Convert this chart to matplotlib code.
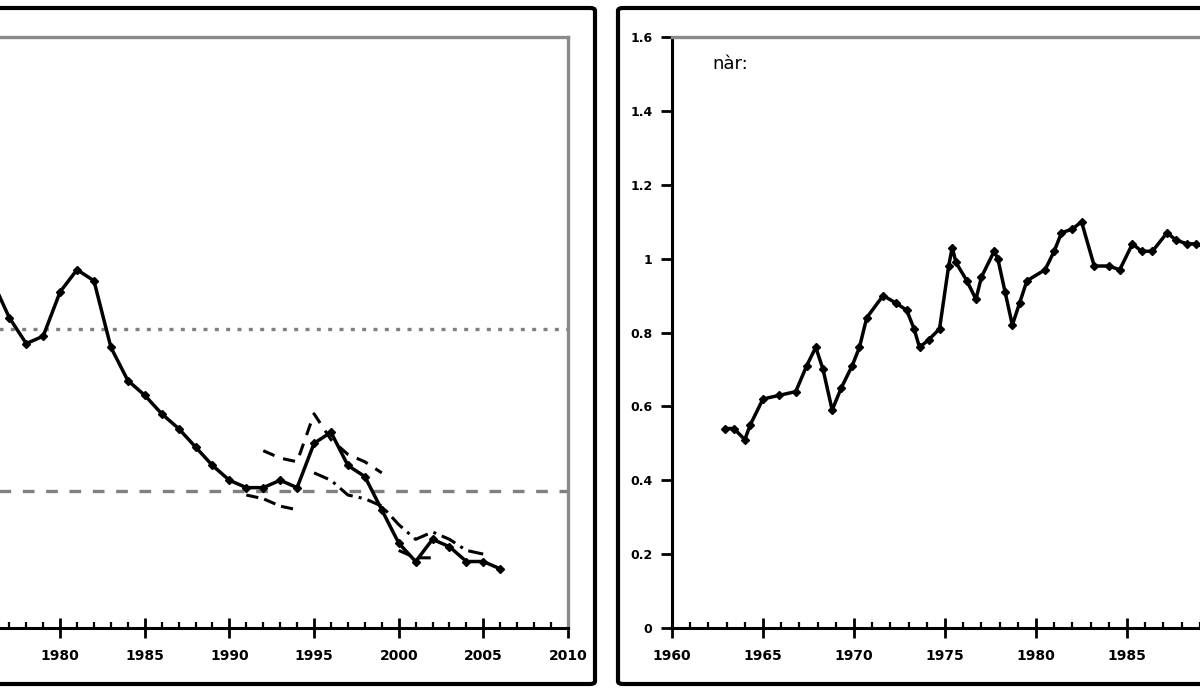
import matplotlib
matplotlib.use("Agg")
import matplotlib.pyplot as plt
from matplotlib.patches import FancyBboxPatch
from matplotlib.ticker import MultipleLocator, FuncFormatter

# === DATA ====================================================================
# left panel: main series (annual) and revised vintages
left_years = list(range(1976, 2007))
left_main = [0.94, 0.84, 0.77, 0.79, 0.91, 0.97, 0.94, 0.76, 0.67, 0.63,
             0.58, 0.54, 0.49, 0.44, 0.40, 0.38, 0.38, 0.40, 0.38, 0.50,
             0.53, 0.44, 0.41, 0.32, 0.23, 0.18, 0.24, 0.22, 0.18, 0.18,
             0.16]

vint_a_years = [1992, 1993, 1994, 1995, 1996, 1997, 1998, 1999]
vint_a = [0.48, 0.46, 0.45, 0.58, 0.51, 0.47, 0.45, 0.42]

vint_b_years = [1991, 1992, 1993, 1994]
vint_b = [0.36, 0.35, 0.33, 0.32]

vint_c_years = [1995, 1996, 1997, 1998, 1999, 2000, 2001, 2002, 2003, 2004, 2005]
vint_c = [0.42, 0.40, 0.36, 0.35, 0.33, 0.28, 0.24, 0.26, 0.24, 0.21, 0.20]

vint_d_years = [2000, 2001, 2002]
vint_d = [0.21, 0.19, 0.19]

ref_dotted = 0.81
ref_dashed = 0.37

# right panel: single series
right_years = [1962.9, 1963.4, 1964.0, 1964.3, 1965.0, 1965.9, 1966.8, 1967.4,
               1967.9, 1968.3, 1968.8, 1969.3, 1969.9, 1970.3, 1970.7, 1971.6,
               1972.3, 1972.9, 1973.3, 1973.6, 1974.1, 1974.7, 1975.2, 1975.4,
               1975.6, 1976.2, 1976.7, 1977.0, 1977.7, 1977.9, 1978.3, 1978.7,
               1979.1, 1979.5, 1980.5, 1981.0, 1981.4, 1982.0, 1982.5, 1983.2,
               1984.0, 1984.6, 1985.3, 1985.8, 1986.4, 1987.2, 1987.7, 1988.3,
               1988.8, 1989.3]
right_vals = [0.54, 0.54, 0.51, 0.55, 0.62, 0.63, 0.64, 0.71,
              0.76, 0.70, 0.59, 0.65, 0.71, 0.76, 0.84, 0.90,
              0.88, 0.86, 0.81, 0.76, 0.78, 0.81, 0.98, 1.03,
              0.99, 0.94, 0.89, 0.95, 1.02, 1.00, 0.91, 0.82,
              0.88, 0.94, 0.97, 1.02, 1.07, 1.08, 1.10, 0.98,
              0.98, 0.97, 1.04, 1.02, 1.02, 1.07, 1.05, 1.04,
              1.04, 1.03]
right_label = "nàr:"

W, H = 1200, 696


def style_axes(ax):
    for s in ("top", "right"):
        ax.spines[s].set_color("#8a8a8a")
        ax.spines[s].set_linewidth(2.4)
    for s in ("bottom", "left"):
        ax.spines[s].set_color("black")
        ax.spines[s].set_linewidth(2.2)
    ax.xaxis.set_major_locator(MultipleLocator(5))
    ax.xaxis.set_minor_locator(MultipleLocator(1))
    ax.tick_params(axis="x", which="major", direction="inout", length=14,
                   width=2, labelsize=10, pad=8)
    ax.tick_params(axis="x", which="minor", direction="in", length=4, width=1.6)
    ax.tick_params(axis="y", which="major", direction="out", length=8,
                   width=2, labelsize=9, pad=6)
    ax.tick_params(top=False, right=False)


def year_fmt(lo, hi):
    # only label the years that fit inside the picture
    return FuncFormatter(lambda v, p: "%d" % v if lo <= v <= hi else "")


fig = plt.figure(figsize=(W / 100, H / 100), dpi=100)

# outer panel boxes
for x0, x1 in ((-30, 595), (618, 1260)):
    box = FancyBboxPatch((x0 / W, 12 / H), (x1 - x0) / W, (688 - 12) / H,
                         boxstyle="round,pad=0,rounding_size=0.004",
                         transform=fig.transFigure, fill=False,
                         edgecolor="black", linewidth=3, clip_on=False)
    fig.patches.append(box)

# === LEFT PANEL ==============================================================
xl0, xl1 = 1970, 2010
px_yr_l = 16.93
ax1 = fig.add_axes([(568 - (xl1 - xl0) * px_yr_l) / W, (H - 628) / H,
                    (xl1 - xl0) * px_yr_l / W, (628 - 37) / H])
ax1.set_xlim(xl0, xl1)
ax1.set_ylim(0, 1.6)
ax1.axhline(ref_dotted, color="#808080", linestyle=(0, (1.2, 2.2)), linewidth=2.4)
ax1.axhline(ref_dashed, color="#808080", linestyle=(0, (3.5, 3.5)), linewidth=2.4)
ax1.plot(vint_a_years, vint_a, color="black", linestyle=(0, (4, 3)), linewidth=2.2)
ax1.plot(vint_b_years, vint_b, color="black", linestyle=(0, (4, 2)), linewidth=2.2)
ax1.plot(vint_c_years, vint_c, color="black", linestyle=(0, (5, 2, 1, 2)), linewidth=2.2)
ax1.plot(vint_d_years, vint_d, color="black", linestyle=(0, (4, 3)), linewidth=2.2)
ax1.plot(left_years, left_main, color="black", linewidth=2.5, marker="D", markersize=4)
style_axes(ax1)
ax1.xaxis.set_major_formatter(year_fmt(1980, 2010))
ax1.tick_params(axis="y", labelleft=False)
for lab in ax1.get_xticklabels():
    lab.set_fontweight("bold")

# === RIGHT PANEL =============================================================
xr0, xr1 = 1960, 1995
px_yr_r = 18.2
ax2 = fig.add_axes([672 / W, (H - 628) / H,
                    (xr1 - xr0) * px_yr_r / W, (628 - 37) / H])
ax2.set_xlim(xr0, xr1)
ax2.set_ylim(0, 1.6)
ax2.yaxis.set_major_locator(MultipleLocator(0.2))
ax2.yaxis.set_major_formatter(FuncFormatter(lambda v, p: "%g" % round(v, 1)))
ax2.plot(right_years, right_vals, color="black", linewidth=2.5, marker="D", markersize=4)
ax2.text(0.063, 0.955, right_label, transform=ax2.transAxes, fontsize=13,
         ha="left", va="center")
style_axes(ax2)
ax2.xaxis.set_major_formatter(year_fmt(1960, 1985))
for lab in ax2.get_xticklabels() + ax2.get_yticklabels():
    lab.set_fontweight("bold")

fig.savefig("out.png", dpi=100)
